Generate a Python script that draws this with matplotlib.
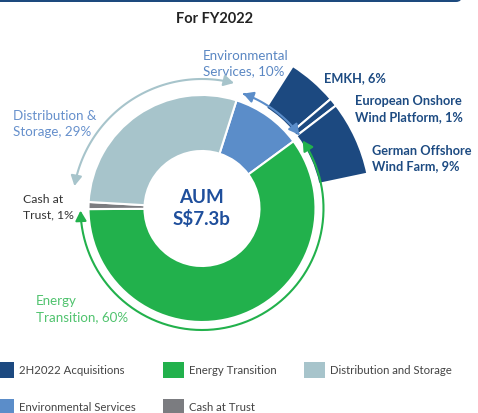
import numpy as np
import matplotlib
matplotlib.use("Agg")
import matplotlib.pyplot as plt
from matplotlib.patches import Wedge, Rectangle, FancyBboxPatch, FancyArrowPatch
from matplotlib.path import Path

plt.rcParams['font.family'] = ['Lato', 'DejaVu Sans']

# ring data (share of AUM, %)
ring_labels = ['Environmental Services', 'Energy Transition', 'Cash at Trust', 'Distribution and Storage']
ring_values = [10, 60, 1, 29]
ring_colors = ['#5b8dc9', '#22b14c', '#7b7c80', '#a7c4cb']

# 2H2022 acquisitions (share of AUM, %)
acq_labels = ['EMKH', 'European Onshore\nWind Platform', 'German Offshore\nWind Farm']
acq_values = [6, 1, 9]
acq_color = '#1c4980'

legend_labels = ['2H2022 Acquisitions', 'Energy Transition', 'Distribution and Storage',
                 'Environmental Services', 'Cash at Trust']
legend_colors = [acq_color, '#22b14c', '#a7c4cb', '#5b8dc9', '#7b7c80']

W, H = 478, 414
CX, CY = 202, 209.5


def P(px, py):
    # pixel position -> data coords (centre of donut at origin)
    return px - CX, CY - py


fig = plt.figure(figsize=(W / 100, H / 100), dpi=100)
ax = fig.add_axes([0, 0, 1, 1])

R_OUT, R_IN = 113.5, 57.5
ax.pie(ring_values, colors=ring_colors, radius=R_OUT, startangle=72.3, counterclock=False,
       wedgeprops=dict(width=R_OUT - R_IN, edgecolor='white', linewidth=1.5))

# acquisition wedges outside the ring
deg_per_pct = 2.85
a = 57.5
for v in acq_values:
    a2 = a - v * deg_per_pct
    ax.add_patch(Wedge((0, 0), 169, a2, a, width=50, facecolor=acq_color,
                       edgecolor='white', linewidth=1.5, zorder=3))
    a = a2


def arc_arrow(r, t0, t1, color, lw=1.5):
    t = np.radians(np.linspace(t0, t1, 80))
    verts = np.column_stack([r * np.cos(t), r * np.sin(t)])
    arr = FancyArrowPatch(path=Path(verts), arrowstyle='<|-|>,head_length=6,head_width=3.3',
                          color=color, lw=lw, shrinkA=0, shrinkB=0, zorder=5)
    ax.add_patch(arr)


arc_arrow(122, 70.3, 37.2, '#5b8dc9')
arc_arrow(129.5, 75.7, 170, '#a7c4cb')
arc_arrow(121.5, 34, -179, '#22b14c')

# top bar and title
ax.add_patch(FancyBboxPatch(P(-20, 3), 482, 12, boxstyle='round,pad=0,rounding_size=6',
                            facecolor='#1d4a7e', edgecolor='none'))
ax.text(*P(215, 19), 'For FY2022', ha='center', va='center', fontsize=10.5,
        fontweight='bold', color='#222222')

# centre text
ax.text(*P(201, 197.5), 'AUM', ha='center', va='center', fontsize=13.5, fontweight='bold', color='#1f4f9c')
ax.text(*P(201, 219), 'S$7.3b', ha='center', va='center', fontsize=13.5, fontweight='bold', color='#1f4f9c')

labels = [
    (203, [56, 71], ['Environmental', 'Services, 10%'], '#5a87c3', 'normal', 9.6),
    (13, [116, 132], ['Distribution &', 'Storage, 29%'], '#6690cc', 'normal', 9.6),
    (23, [200, 215], ['Cash at', 'Trust, 1%'], '#333333', 'normal', 8.8),
    (36, [301, 317], ['Energy', 'Transition, 60%'], '#50c36e', 'normal', 9.6),
    (324, [78], ['EMKH, 6%'], '#1d4b82', 'bold', 9.2),
    (355, [101, 117], ['European Onshore', 'Wind Platform, 1%'], '#1d4b82', 'bold', 9.2),
    (372, [151, 166], ['German Offshore', 'Wind Farm, 9%'], '#1d4b82', 'bold', 9.2),
]
for x, ys, lines, c, w, fs in labels:
    for y, s in zip(ys, lines):
        ax.text(*P(x, y), s, ha='left', va='center', fontsize=fs, color=c, fontweight=w)

# legend
leg_pos = [(-7, 371), (163, 371), (304, 371), (-7, 408), (163, 408)]
for (x, y), lab, c in zip(leg_pos, legend_labels, legend_colors):
    ax.add_patch(Rectangle(P(x, y + 8), 21, 16, facecolor=c, edgecolor='none'))
    ax.text(*P(x + 26, y), lab, ha='left', va='center', fontsize=8.2, color='#444444')

ax.set_xlim(-CX, W - CX)
ax.set_ylim(CY - H, CY)
ax.set_aspect('equal')
ax.axis('off')

fig.savefig('out.png', dpi=100)
